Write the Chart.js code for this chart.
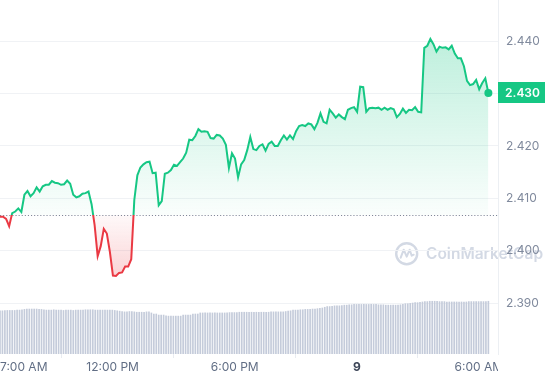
<!DOCTYPE html>
<html><head><meta charset="utf-8">
<script src="https://cdn.jsdelivr.net/npm/chart.js@4.4.1/dist/chart.umd.min.js"></script>
<style>html,body{margin:0;padding:0;background:#fff;overflow:hidden}</style>
</head><body>
<canvas id="c" width="545" height="380"></canvas>
<script>
// ---- data ----
const START_HOUR = 6 + 28 / 60;      // first sample: 6:28 AM
const PRICE_STEP_MIN = 9;
const VOLUME_STEP_MIN = 7.2;
const BASELINE = 2.4068;             // open price (dotted reference line)

const prices = [
  2.4065, 2.4065, 2.4061, 2.4047, 2.4072, 2.4075, 2.4081, 2.4074, 2.4107, 2.4114,
  2.4104, 2.4110, 2.4121, 2.4113, 2.4123, 2.4126, 2.4126, 2.4133, 2.4130, 2.4129,
  2.4126, 2.4127, 2.4134, 2.4128, 2.4107, 2.4102, 2.4104, 2.4109, 2.4110, 2.4113,
  2.4089, 2.4049, 2.3990, 2.4009, 2.4042, 2.4033, 2.3998, 2.3953, 2.3952, 2.3958,
  2.3959, 2.3970, 2.3970, 2.3984, 2.4097, 2.4144, 2.4159, 2.4165, 2.4169, 2.4170,
  2.4148, 2.4149, 2.4087, 2.4095, 2.4147, 2.4149, 2.4154, 2.4164, 2.4162, 2.4169,
  2.4176, 2.4187, 2.4212, 2.4211, 2.4219, 2.4232, 2.4227, 2.4228, 2.4227, 2.4215,
  2.4214, 2.4221, 2.4220, 2.4214, 2.4202, 2.4158, 2.4186, 2.4176, 2.4140, 2.4165,
  2.4173, 2.4192, 2.4217, 2.4194, 2.4192, 2.4200, 2.4203, 2.4191, 2.4204, 2.4208,
  2.4200, 2.4200, 2.4211, 2.4220, 2.4212, 2.4220, 2.4213, 2.4228, 2.4238, 2.4240,
  2.4238, 2.4243, 2.4241, 2.4232, 2.4244, 2.4262, 2.4246, 2.4243, 2.4269, 2.4262,
  2.4254, 2.4260, 2.4255, 2.4251, 2.4269, 2.4272, 2.4274, 2.4265, 2.4313, 2.4312,
  2.4265, 2.4272, 2.4273, 2.4272, 2.4273, 2.4269, 2.4273, 2.4269, 2.4272, 2.4270,
  2.4255, 2.4261, 2.4271, 2.4263, 2.4269, 2.4268, 2.4274, 2.4265, 2.4264, 2.4387,
  2.4391, 2.4404, 2.4394, 2.4380, 2.4389, 2.4387, 2.4388, 2.4384, 2.4391, 2.4376,
  2.4367, 2.4367, 2.4352, 2.4324, 2.4316, 2.4318, 2.4326, 2.4308, 2.4320, 2.4329, 2.4301
];

const volumes = [
  12.2,12.2,12.3,12.3,12.3,12.3,12.3,12.4,12.4,12.5,
  12.6,12.7,12.7,12.7,12.7,12.7,12.6,12.6,12.5,12.4,
  12.4,12.4,12.5,12.4,12.4,12.4,12.3,12.4,12.4,12.4,
  12.3,12.4,12.4,12.4,12.4,12.5,12.5,12.5,12.5,12.4,
  12.4,12.4,12.4,12.4,12.4,12.4,12.4,12.3,12.2,12.1,
  12.0,11.9,11.9,12.0,12.0,11.9,11.8,11.8,11.8,11.8,
  11.9,11.9,11.6,11.3,11.3,11.0,11.0,11.0,10.8,10.7,
  10.7,10.7,10.7,10.7,10.7,11.0,11.0,11.0,11.0,11.3,
  11.3,11.3,11.6,11.6,11.6,11.6,11.6,11.6,11.6,11.6,
  11.6,11.6,11.6,11.6,11.7,11.7,11.7,11.7,11.8,11.8,
  11.8,11.8,11.8,11.8,11.8,11.8,11.8,11.8,11.8,11.8,
  11.8,11.9,11.9,11.9,11.9,11.9,11.9,12.0,12.1,12.2,
  12.4,12.4,12.4,12.5,12.5,12.6,12.6,12.6,12.7,12.7,
  12.8,12.9,13.0,13.2,13.4,13.4,13.5,13.6,13.6,13.6,
  13.7,13.8,13.8,13.9,13.9,14.0,14.0,14.0,14.0,14.0,
  14.0,14.0,14.0,14.0,14.0,13.9,13.9,13.9,13.8,13.8,
  13.8,13.8,13.8,13.8,13.9,14.0,14.2,14.2,14.3,14.4,
  14.5,14.5,14.6,14.7,14.8,14.8,14.9,14.9,14.9,14.9,
  14.8,14.8,14.8,14.7,14.7,14.7,14.7,14.7,14.7,14.7,
  14.7,14.7,14.8,14.8,14.8,14.8,14.8,14.8,14.8,14.8,14.9
];

const yTicks = [2.39, 2.40, 2.41, 2.42, 2.43, 2.44];
const xTickHours = [7, 12, 18, 24, 30];
const xTickLabels = ['7:00 AM', '12:00 PM', '6:00 PM', '9', '6:00 AM'];

// ---- styling / layout ----
const GREEN = '#16c784', RED = '#ea3943';
const X_MIN = 6.4667, X_MAX = 30.94;
const Y_MIN = 2.38034, Y_MAX = 2.44782;
const FONT = 'Inter, "Open Sans", sans-serif';

const pricePoints = prices.map((v, i) => ({x: START_HOUR + i * PRICE_STEP_MIN / 60, y: v}));
const volumePoints = volumes.map((v, i) => ({x: START_HOUR + i * VOLUME_STEP_MIN / 60, y: v}));

function clamp01(v){ return Math.max(0, Math.min(1, v)); }

function borderGrad(ctx) {
  const chart = ctx.chart, area = chart.chartArea;
  if (!area) return GREEN;
  const by = chart.scales.y.getPixelForValue(BASELINE);
  const r = clamp01((by - area.top) / (area.bottom - area.top));
  const g = chart.ctx.createLinearGradient(0, area.top, 0, area.bottom);
  g.addColorStop(0, GREEN); g.addColorStop(r, GREEN);
  g.addColorStop(r, RED); g.addColorStop(1, RED);
  return g;
}
function fillGrad(ctx) {
  const chart = ctx.chart, area = chart.chartArea;
  if (!area) return 'rgba(22,199,132,0.1)';
  const ys = chart.scales.y;
  const top = ys.getPixelForValue(Math.max(...prices));
  const low = ys.getPixelForValue(Math.min(...prices));
  const by = ys.getPixelForValue(BASELINE);
  const r = clamp01((by - top) / (low - top));
  const g = chart.ctx.createLinearGradient(0, top, 0, low);
  g.addColorStop(0, 'rgba(22,199,132,0.28)');
  g.addColorStop(r, 'rgba(22,199,132,0.02)');
  g.addColorStop(r, 'rgba(234,57,67,0.03)');
  g.addColorStop(1, 'rgba(234,57,67,0.22)');
  return g;
}

const decorPlugin = {
  id: 'decor',
  beforeDraw(chart) {
    const c = chart.ctx;
    // watermark
    c.save();
    c.strokeStyle = '#d3d9e4'; c.fillStyle = '#d3d9e4'; c.lineWidth = 2.4;
    const lx = 406.7, ly = 253.7;
    c.beginPath(); c.arc(lx, ly, 10.5, 0, Math.PI * 2); c.stroke();
    c.lineWidth = 2; c.lineJoin = 'round'; c.lineCap = 'round';
    c.beginPath();
    c.moveTo(lx - 6, ly + 4); c.lineTo(lx - 3, ly - 4); c.lineTo(lx, ly + 3);
    c.lineTo(lx + 3, ly - 4); c.lineTo(lx + 5, ly + 2); c.lineTo(lx + 7, ly + 1);
    c.stroke();
    c.font = '600 15.5px ' + FONT; c.textBaseline = 'middle'; c.textAlign = 'left';
    c.fillText('CoinMarketCap', 426, 254.5);
    c.restore();
  },
  beforeDatasetsDraw(chart) {
    const c = chart.ctx, a = chart.chartArea;
    const y = Math.round(chart.scales.y.getPixelForValue(BASELINE)) + 0.5;
    c.save();
    c.strokeStyle = '#7f8899'; c.lineWidth = 1.1; c.setLineDash([1.1, 2]);
    c.beginPath(); c.moveTo(a.left, y); c.lineTo(a.right, y); c.stroke();
    c.restore();
  },
  afterDraw(chart) {
    const c = chart.ctx, a = chart.chartArea;
    // x tick labels: first label kept inside the canvas, others centred, clipped at plot edge
    const xs = chart.scales.x;
    c.save();
    c.beginPath(); c.rect(0, a.bottom, a.right, chart.height - a.bottom); c.clip();
    c.textBaseline = 'middle'; c.textAlign = 'left';
    xTickHours.forEach((h, i) => {
      const bold = h === 24;
      c.font = (bold ? '700 ' : '400 ') + '12px ' + FONT;
      c.fillStyle = bold ? '#3d4658' : '#616e85';
      const txt = xTickLabels[i];
      const w = c.measureText(txt).width;
      const px = xs.getPixelForValue(h);
      c.fillText(txt, Math.max(0, px - w / 2), a.bottom + 13);
    });
    c.restore();
    // current price box
    const last = prices[prices.length - 1];
    const y = chart.scales.y.getPixelForValue(last);
    c.save();
    c.fillStyle = GREEN;
    c.fillRect(a.right, Math.round(y - 10.5), chart.width - a.right, 21);
    c.fillStyle = '#fff'; c.font = '600 12px ' + FONT;
    c.textAlign = 'center'; c.textBaseline = 'middle';
    c.fillText(last.toFixed(3), (a.right + chart.width) / 2 + 1, y + 0.5);
    c.restore();
  }
};

new Chart(document.getElementById('c'), {
  type: 'line',
  data: {
    datasets: [
      {
        type: 'line', data: pricePoints, yAxisID: 'y',
        borderColor: borderGrad, backgroundColor: fillGrad, borderWidth: 2,
        fill: {target: {value: BASELINE}},
        tension: 0,
        pointRadius: (ctx) => ctx.dataIndex === prices.length - 1 ? 4 : 0,
        pointBackgroundColor: GREEN, pointBorderWidth: 0, pointHoverRadius: 0,
        order: 0
      },
      {
        type: 'bar', data: volumePoints, yAxisID: 'yv',
        backgroundColor: '#c4cbda', barThickness: 1, order: 1
      }
    ]
  },
  options: {
    responsive: false, animation: false, devicePixelRatio: 1, events: [],
    layout: {padding: 0, autoPadding: false},
    plugins: {legend: {display: false}, tooltip: {enabled: false}},
    scales: {
      x: {
        type: 'linear', min: X_MIN, max: X_MAX, offset: false,
        afterBuildTicks: (s) => { s.ticks = xTickHours.map(v => ({value: v})); },
        afterFit: (s) => { s.height = 26; s.paddingLeft = 0; s.paddingRight = 0; },
        grid: {drawOnChartArea: false, drawTicks: true, tickLength: 4, color: '#e9ecf1'},
        border: {display: false},
        ticks: {display: false}
      },
      y: {
        type: 'linear', position: 'right', min: Y_MIN, max: Y_MAX,
        afterBuildTicks: (s) => { s.ticks = yTicks.map(v => ({value: v})); },
        afterFit: (s) => { s.width = 47; s.paddingTop = 0; s.paddingBottom = 0; },
        grid: {drawTicks: false, color: '#f0f2f5'},
        border: {display: true, color: '#eceff3'},
        ticks: {padding: 8, color: '#808a9d', font: {family: FONT, size: 12},
          callback: (v) => Number(v).toFixed(3)}
      },
      yv: {type: 'linear', display: false, min: 0, max: 100}
    }
  },
  plugins: [decorPlugin]
});
</script>
</body></html>
